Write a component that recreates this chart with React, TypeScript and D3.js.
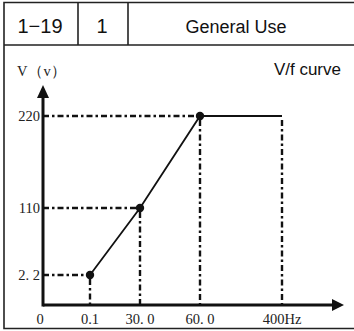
import { useEffect, useRef } from "react";
import * as d3 from "d3";

// header cells
const headerCells = ["1\u221219", "1", "General Use"];
const chartTitle = "V/f curve";
const yTitle = "V\uff08v\uff09";

// axis ticks (non-uniform, drawn from the original diagram)
const freqValues = [0, 0.1, 30, 60, 400];
const freqLabels = ["0", "0.1", "30. 0", "60. 0", "400Hz"];
const voltValues = [2.2, 110, 220];
const voltLabels = ["2. 2", "110", "220"];

// V/f curve points
const curveFreq = [0.1, 30, 60, 400];
const curveVolt = [2.2, 110, 220, 220];

const W = 354;
const H = 331;

function drawChart(svgEl: SVGSVGElement) {
  const svg = d3.select(svgEl);
  svg.selectAll("*").remove();

  const sans = "'Liberation Sans', Arial, sans-serif";
  const serif = "'Liberation Serif', 'DejaVu Serif', serif";

  // outer frame (open on the right, cut by the page edge) + header
  svg
    .append("path")
    .attr("d", `M${W},2.5 H4 V328.5 H${W} M4,45 H${W}`)
    .attr("fill", "none")
    .attr("stroke", "#222")
    .attr("stroke-width", 1.6);

  const colEdges = [4, 78, 128, W];
  svg
    .append("g")
    .selectAll("line")
    .data(colEdges.slice(1, 3))
    .join("line")
    .attr("x1", (d) => d)
    .attr("x2", (d) => d)
    .attr("y1", 2.5)
    .attr("y2", 45)
    .attr("stroke", "#222")
    .attr("stroke-width", 1.6);

  svg
    .append("g")
    .attr("font-family", sans)
    .attr("fill", "#111")
    .selectAll("text")
    .data(headerCells)
    .join("text")
    .attr("x", (d, i) => (i === 2 ? 236 : (colEdges[i] + colEdges[i + 1]) / 2 - 1))
    .attr("y", 33)
    .attr("text-anchor", "middle")
    .attr("font-size", (d, i) => (i < 2 ? 20 : 18))
    .text((d) => d);

  svg
    .append("text")
    .attr("x", 341)
    .attr("y", 75)
    .attr("text-anchor", "end")
    .attr("font-family", sans)
    .attr("font-size", 17)
    .attr("fill", "#111")
    .text(chartTitle);

  // scales
  const x = d3
    .scaleLinear()
    .domain(freqValues)
    .range([43, 90, 140, 200, 282]);
  const y = d3
    .scaleLinear()
    .domain([0, ...voltValues])
    .range([305, 275, 208, 116]);

  const dash = "6,3,2.5,3";

  // guide lines (dash-dot)
  const guides = svg
    .append("g")
    .attr("stroke", "#111")
    .attr("stroke-width", 2.4)
    .attr("fill", "none");
  curveFreq.forEach((f, i) => {
    const v = curveVolt[i];
    guides
      .append("line")
      .attr("x1", x(f))
      .attr("x2", x(f))
      .attr("y1", y(v) + 4)
      .attr("y2", y(0))
      .attr("stroke-dasharray", dash);
    if (i < 3) {
      guides
        .append("line")
        .attr("x1", x(0))
        .attr("x2", x(f))
        .attr("y1", y(v))
        .attr("y2", y(v))
        .attr("stroke-dasharray", dash);
    }
  });

  // curve
  const line = d3
    .line<number>()
    .x((d, i) => x(curveFreq[i]))
    .y((d) => y(d));
  svg
    .append("path")
    .attr("d", line(curveVolt))
    .attr("fill", "none")
    .attr("stroke", "#111")
    .attr("stroke-width", 1.8);

  svg
    .append("g")
    .selectAll("circle")
    .data(curveVolt.slice(0, 3))
    .join("circle")
    .attr("cx", (d, i) => x(curveFreq[i]))
    .attr("cy", (d) => y(d))
    .attr("r", 4.2)
    .attr("fill", "#111");

  // axes with arrows
  const x0 = x(0);
  const y0 = y(0);
  svg
    .append("line")
    .attr("x1", x0)
    .attr("x2", 334)
    .attr("y1", y0)
    .attr("y2", y0)
    .attr("stroke", "#111")
    .attr("stroke-width", 3);
  svg
    .append("line")
    .attr("x1", x0)
    .attr("x2", x0)
    .attr("y1", y0 + 1.5)
    .attr("y2", 95)
    .attr("stroke", "#111")
    .attr("stroke-width", 3);
  svg
    .append("path")
    .attr("d", `M344,${y0} L332,${y0 - 6} L332,${y0 + 6} Z`)
    .attr("fill", "#111");
  svg
    .append("path")
    .attr("d", `M${x0},85 L${x0 - 6},98 L${x0 + 6},98 Z`)
    .attr("fill", "#111");

  // tick labels
  const labels = svg
    .append("g")
    .attr("font-family", serif)
    .attr("font-size", 14.5)
    .attr("fill", "#222");
  labels
    .selectAll("text.xl")
    .data(freqValues)
    .join("text")
    .attr("class", "xl")
    .attr("x", (d, i) => (i === 0 ? x(d) - 3 : x(d)))
    .attr("y", 324)
    .attr("text-anchor", "middle")
    .text((d, i) => freqLabels[i]);
  labels
    .selectAll("text.yl")
    .data(voltValues)
    .join("text")
    .attr("class", "yl")
    .attr("x", x0 - 3)
    .attr("y", (d) => y(d) + 5)
    .attr("text-anchor", "end")
    .text((d, i) => voltLabels[i]);
  labels
    .append("text")
    .attr("x", 17)
    .attr("y", 76)
    .attr("letter-spacing", 0.5)
    .text(yTitle);
}

export default function App() {
  const ref = useRef<SVGSVGElement>(null);
  useEffect(() => {
    if (ref.current) drawChart(ref.current);
  }, []);
  return (
    <svg
      ref={ref}
      width={W}
      height={H}
      style={{ position: "absolute", left: 0, top: 0, background: "#fff" }}
    />
  );
}
